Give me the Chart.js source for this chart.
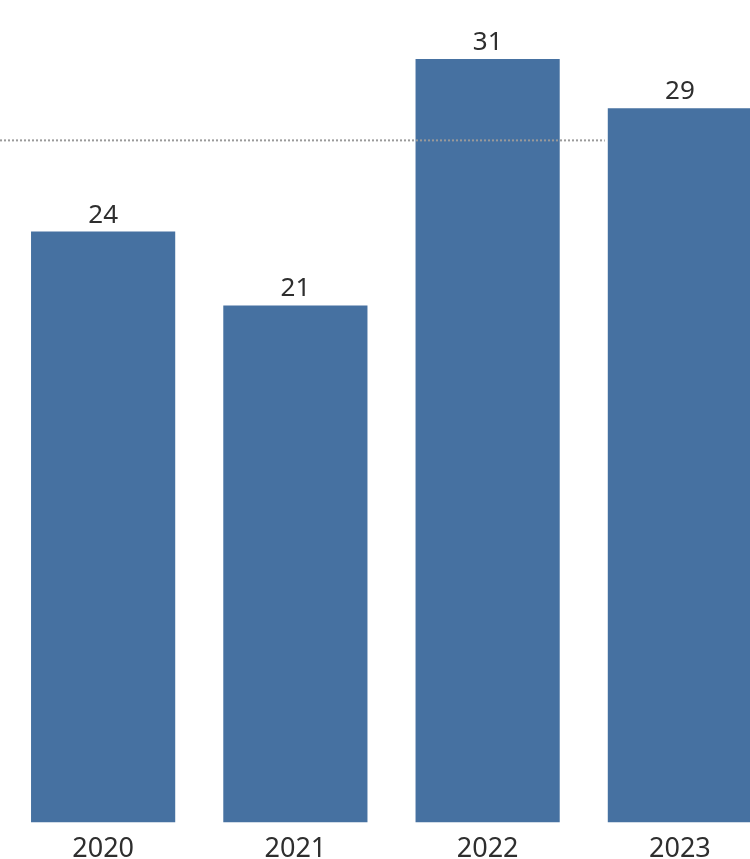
<!DOCTYPE html>
<html>
<head>
<meta charset="utf-8">
<script src="https://cdn.jsdelivr.net/npm/chart.js@4.4.1/dist/chart.umd.min.js"></script>
<style>
  html, body { margin: 0; padding: 0; background: #fff; overflow: hidden; }
  #wrap { position: absolute; left: 0; top: 0; width: 776px; height: 859px; }
</style>
</head>
<body>
<div id="wrap"><canvas id="yearChart" width="776" height="859"></canvas></div>
<script>
// Yearly totals
const years = ['2020', '2021', '2022', '2023'];
const totals = [24, 21, 31, 29];
// Dotted reference level
const referenceValue = 27.7;

const barColor = '#4671a1';
const textColor = '#2e2e2e';
const fontFamily = '"Noto Sans", "Open Sans", sans-serif';

// Value labels above each bar
const valueLabels = {
    id: 'valueLabels',
    afterDatasetsDraw(chart) {
        const ctx = chart.ctx;
        const meta = chart.getDatasetMeta(0);
        ctx.save();
        ctx.font = '26px ' + fontFamily;
        ctx.fillStyle = textColor;
        ctx.textAlign = 'center';
        ctx.textBaseline = 'alphabetic';
        meta.data.forEach((bar, i) => {
            ctx.fillText(String(totals[i]), bar.x, bar.y - 9);
        });
        ctx.restore();
    }
};

// Dotted reference line, stops short of the last bar
const referenceLine = {
    id: 'referenceLine',
    afterDatasetsDraw(chart) {
        const ctx = chart.ctx;
        const meta = chart.getDatasetMeta(0);
        const last = meta.data[meta.data.length - 1];
        const y = chart.scales.y.getPixelForValue(referenceValue);
        const xEnd = last.x - last.width / 2 - 3;
        ctx.save();
        ctx.strokeStyle = '#9a9a9a';
        ctx.lineWidth = 2;
        ctx.setLineDash([2, 2]);
        ctx.beginPath();
        ctx.moveTo(0, y);
        ctx.lineTo(xEnd, y);
        ctx.stroke();
        ctx.restore();
    }
};

const ctx = document.getElementById('yearChart').getContext('2d');
new Chart(ctx, {
    type: 'bar',
    data: {
        labels: years,
        datasets: [{
            data: totals,
            backgroundColor: barColor,
            borderWidth: 0,
            barPercentage: 0.75,
            categoryPercentage: 1.0
        }]
    },
    options: {
        responsive: false,
        animation: false,
        layout: { padding: { left: 7, right: 0, top: 0, bottom: -10 } },
        plugins: {
            legend: { display: false },
            tooltip: { enabled: false }
        },
        scales: {
            x: {
                grid: { display: false },
                border: { display: false },
                ticks: {
                    color: textColor,
                    font: { family: fontFamily, size: 27 },
                    padding: 3,
                    maxRotation: 0
                }
            },
            y: {
                display: false,
                min: 0,
                max: 33.4
            }
        }
    },
    plugins: [referenceLine, valueLabels]
});
</script>
</body>
</html>
